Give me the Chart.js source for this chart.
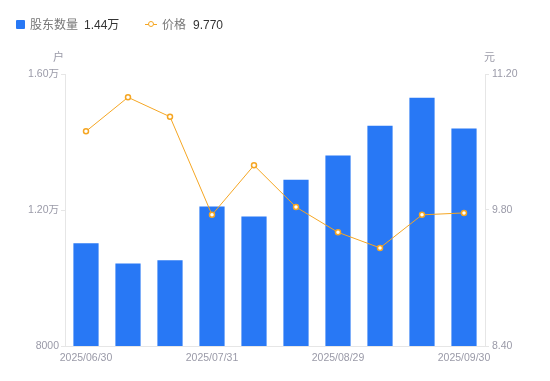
<!DOCTYPE html>
<html><head><meta charset="utf-8">
<script src="https://cdn.jsdelivr.net/npm/chart.js@4/dist/chart.umd.min.js"></script>
<style>
html,body{margin:0;padding:0;background:#fff;}
#wrap{position:relative;width:550px;height:381px;font-family:"Liberation Sans","Noto Sans CJK SC",sans-serif;}
canvas{position:absolute;left:0;top:0;}
.lg{position:absolute;top:16px;font-size:12px;line-height:18px;white-space:nowrap;}
.t{position:absolute;top:48px;font-size:11px;color:#9a9aa8;}
</style></head><body>
<div id="wrap">
<canvas id="c" width="550" height="381"></canvas>
<div class="lg" style="left:16px;"><span style="display:inline-block;width:9px;height:9px;background:#2878f5;border-radius:1px;vertical-align:-0px;margin-right:5px;"></span><span style="color:#777;">股东数量</span><span style="color:#333;margin-left:6px;">1.44万</span></div>
<div class="lg" style="left:145px;"><span style="display:inline-block;position:relative;width:12px;height:9px;margin-right:5px;vertical-align:0px;"><span style="position:absolute;left:0;top:4px;width:12px;height:1px;background:#f5a623;"></span><span style="position:absolute;left:3px;top:1px;width:4px;height:4px;border:1.5px solid #f5a623;border-radius:50%;background:#fff;"></span></span><span style="color:#777;">价格</span><span style="color:#333;margin-left:7px;">9.770</span></div>
<div class="t" style="left:53px;">户</div>
<div class="t" style="left:484px;">元</div>
</div>
<script>
const categories = ["2025/06/30","2025/07/10","2025/07/20","2025/07/31","2025/08/10","2025/08/20","2025/08/29","2025/09/10","2025/09/20","2025/09/30"];
const holders = [11020, 10430, 10520, 12100, 11810, 12890, 13600, 14480, 15300, 14400];
const prices = [10.61, 10.96, 10.76, 9.75, 10.26, 9.83, 9.57, 9.41, 9.75, 9.77];
const leftTicks = [8000, 12000, 16000];
const rightTicks = [8.40, 9.80, 11.20];
const shownLabels = ["2025/06/30","2025/07/31","2025/08/29","2025/09/30"];

const tickColor = '#9a9aa8';
const lineColor = '#e6e6e6';
const tickFont = {size:10.5, family:'"Liberation Sans", "Noto Sans CJK SC", sans-serif'};
new Chart(document.getElementById('c'), {
  data: {
    labels: categories,
    datasets: [
      {type:'line', label:'价格', data: prices, yAxisID:'y1', borderColor:'#f5a623', backgroundColor:'#fff',
       borderWidth:1, pointRadius:2.5, pointBorderWidth:1.5, pointBackgroundColor:'#fff', pointBorderColor:'#f5a623', tension:0, order:0},
      {type:'bar', label:'股东数量', data: holders, yAxisID:'y', backgroundColor:'#2878f5', categoryPercentage:0.6, barPercentage:1.0, order:1}
    ]
  },
  options: {
    responsive:false, animation:false,
    layout:{padding:{top:74, left:0, right:0, bottom:0}},
    plugins:{legend:{display:false}, tooltip:{enabled:false}},
    scales:{
      x:{
        grid:{display:false, drawTicks:false},
        border:{color:lineColor},
        ticks:{autoSkip:false, maxRotation:0, color:tickColor, font:tickFont, padding:6,
          callback:function(v,i){ const l=categories[i]; return shownLabels.includes(l)?l:''; }},
        afterFit:function(s){ s.height = 35; }
      },
      y:{
        position:'left', min:8000, max:16000,
        afterBuildTicks:function(s){ s.ticks = leftTicks.map(v=>({value:v})); },
        grid:{drawOnChartArea:false, tickLength:4, color:lineColor},
        border:{color:lineColor},
        ticks:{color:tickColor, font:tickFont, padding:2,
          callback:function(v){ return v>=10000 ? (v/10000).toFixed(2)+'万' : String(v); }},
        afterFit:function(s){ s.width = 65; }
      },
      y1:{
        position:'right', min:8.4, max:11.2,
        afterBuildTicks:function(s){ s.ticks = rightTicks.map(v=>({value:v})); },
        grid:{drawOnChartArea:false, tickLength:4, color:lineColor},
        border:{color:lineColor},
        ticks:{color:tickColor, font:tickFont, padding:3,
          callback:function(v){ return Number(v).toFixed(2); }},
        afterFit:function(s){ s.width = 65; }
      }
    }
  }
});
</script>
</body></html>
